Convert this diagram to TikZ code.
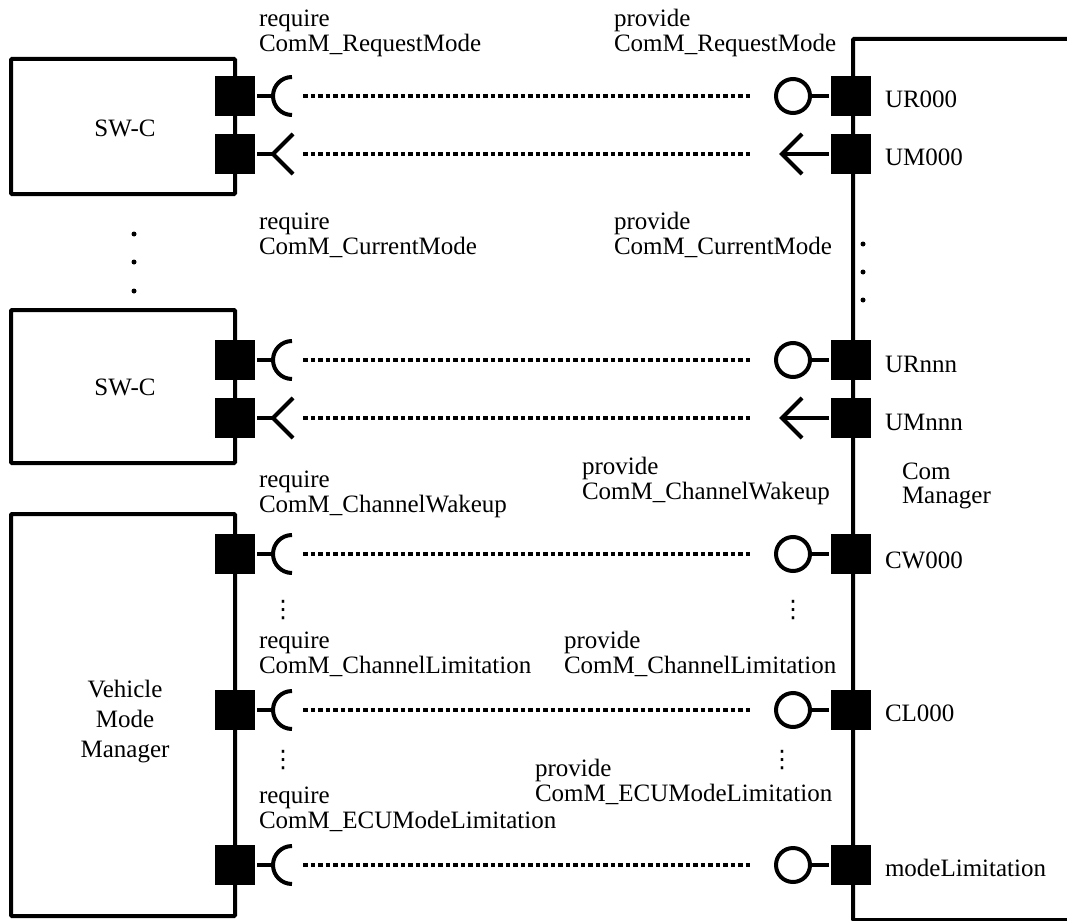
\documentclass[tikz,border=0pt]{standalone}
\usepackage{fontspec}
\setmainfont{Liberation Serif}
\newfontfamily\dvfont{DejaVu Sans}
\newcommand\lblfont{\fontsize{25}{29}\selectfont}
\begin{document}
\begin{tikzpicture}[x=1pt,y=-1pt,line width=4pt,
  box/.style={draw,line width=4pt,inner sep=0pt,rounded corners=1pt},
  port/.style={fill=black,draw=none,minimum size=40pt,inner sep=0pt},
  prov/.style={draw,circle,line width=4pt,minimum size=34pt,inner sep=0pt},
  lbl/.style={anchor=base west,inner sep=0pt,font=\lblfont},
  ctr/.style={inner sep=0pt,font=\lblfont,align=center},
  conn/.style={line width=4pt,dash pattern=on 4.5pt off 3pt},
  vd/.style={inner sep=0pt,font=\dvfont\fontsize{24}{24}\selectfont},
  bigdot/.style={fill=black,draw=none,circle,minimum size=5pt,inner sep=0pt}]
\clip (0,0) rectangle (1067,920);
% boxes
\node[box,minimum width=224pt,minimum height=135pt] (swc1) at (123,126.5) {};
\node[box,minimum width=224pt,minimum height=153pt] (swc2) at (123,386.5) {};
\node[box,minimum width=224pt,minimum height=402pt] (vmm) at (123,715) {};
\node[box,minimum width=229pt,minimum height=881pt,anchor=north west] (comm) at (851,37) {};
\node[ctr] (t1) at (125,128) {SW-C};
\node[ctr] (t2) at (125,387) {SW-C};
\node[ctr] (t3) at (125,722) {Vehicle\\[1pt]Mode\\[1pt]Manager};
\node[lbl] (tc1) at (900,479) {Com};
\node[lbl] (tc2) at (900,503) {Manager};
% require/circle rows
\foreach \n/\y in {1/96,3/360,5/554,6/710,7/865} {
  \node[port] (L\n) at (235,\y) {};
  \node[port] (R\n) at (851,\y) {};
  \coordinate (V\n) at (273,\y);
  \draw (L\n.east) -- (V\n);
  \draw (292,\y-19) arc[start angle=270,end angle=90,radius=19];
  \node[prov] (C\n) at (793,\y) {};
  \draw (C\n.east) -- (R\n.west);
  \coordinate (S\n) at (303,\y);
  \coordinate (E\n) at (753,\y);
  \draw[conn] (S\n) -- (E\n);
}
% mode rows (chevrons)
\foreach \n/\y in {2/154,4/418} {
  \node[port] (L\n) at (235,\y) {};
  \node[port] (R\n) at (851,\y) {};
  \coordinate (V\n) at (273,\y);
  \draw (L\n.east) -- (V\n);
  \draw (293,\y-20) -- (V\n) -- (293,\y+20);
  \coordinate (A\n) at (782,\y);
  \draw (A\n) -- (R\n.west);
  \draw (802,\y-20) -- (A\n) -- (802,\y+20);
  \coordinate (S\n) at (303,\y);
  \coordinate (E\n) at (753,\y);
  \draw[conn] (S\n) -- (E\n);
}
% port labels
\node[lbl] (p1) at (883,108) {UR000};
\node[lbl] (p2) at (883,166) {UM000};
\node[lbl] (p3) at (883,372) {URnnn};
\node[lbl] (p4) at (883,430) {UMnnn};
\node[lbl] (p5) at (883,568) {CW000};
\node[lbl] (p6) at (883,721) {CL000};
\node[lbl] (p7) at (883,876) {modeLimitation};
% interface labels
\node[lbl] (a1) at (257,27) {require};
\node[lbl] (a2) at (257,52) {ComM\_RequestMode};
\node[lbl] (b1) at (612,27) {provide};
\node[lbl] (b2) at (612,52) {ComM\_RequestMode};
\node[lbl] (a3) at (257,229) {require};
\node[lbl] (a4) at (257,254) {ComM\_CurrentMode};
\node[lbl] (b3) at (612,229) {provide};
\node[lbl] (b4) at (612,254) {ComM\_CurrentMode};
\node[lbl] (a5) at (257,487) {require};
\node[lbl] (a6) at (257,512) {ComM\_ChannelWakeup};
\node[lbl] (b5) at (580,474) {provide};
\node[lbl] (b6) at (580,499) {ComM\_ChannelWakeup};
\node[lbl] (a7) at (257,648) {require};
\node[lbl] (a8) at (257,673) {ComM\_ChannelLimitation};
\node[lbl] (b7) at (562,648) {provide};
\node[lbl] (b8) at (562,673) {ComM\_ChannelLimitation};
\node[lbl] (a9) at (257,803) {require};
\node[lbl] (a10) at (257,828) {ComM\_ECUModeLimitation};
\node[lbl] (b9) at (533,776) {provide};
\node[lbl] (b10) at (533,801) {ComM\_ECUModeLimitation};
% ellipses
\node[vd] (d1) at (283,610) {⋮};
\node[vd] (d2) at (793,610) {⋮};
\node[vd] (d3) at (283,760) {⋮};
\node[vd] (d4) at (782,760) {⋮};
\foreach \yy in {234,262,291} {\node[bigdot] at (134,\yy) {};}
\foreach \yy in {244,272,300} {\node[bigdot] at (863,\yy) {};}
\end{tikzpicture}
\end{document}
